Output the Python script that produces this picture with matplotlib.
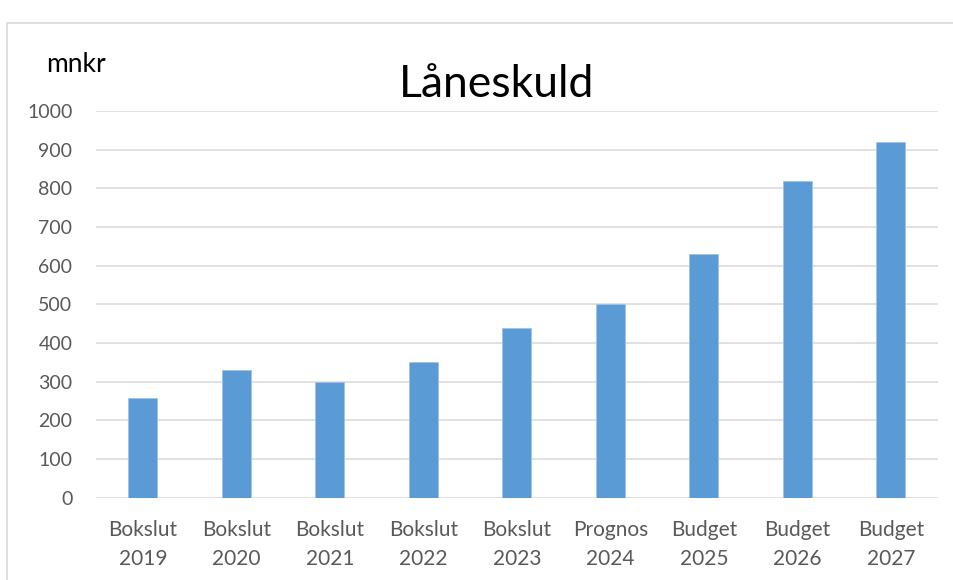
import matplotlib.pyplot as plt
from matplotlib.patches import Rectangle

# Data
categories = ['Bokslut\n2019', 'Bokslut\n2020', 'Bokslut\n2021', 'Bokslut\n2022',
              'Bokslut\n2023', 'Prognos\n2024', 'Budget\n2025', 'Budget\n2026',
              'Budget\n2027']
values = [257, 330, 300, 350, 440, 500, 630, 819, 920]
yticks = [0, 100, 200, 300, 400, 500, 600, 700, 800, 900, 1000]

plt.rcParams['font.family'] = ['Lato', 'DejaVu Sans']

W, H = 954, 580
fig = plt.figure(figsize=(W / 100, H / 100), dpi=100)

# light outer frame (chart area border, cut off on right and bottom)
fig.patches.append(Rectangle((7 / W, -0.1), 1.2, (H - 23) / H + 0.1,
                             transform=fig.transFigure, fill=False,
                             edgecolor='#d9d9d9', linewidth=1.2))

ax = fig.add_axes([96 / W, (H - 497.7) / H, (937.7 - 96) / W, (497.7 - 111) / H])

x = range(len(categories))
ax.bar(x, values, width=0.31, color='#5b9bd5', edgecolor='#9dc3e6',
       linewidth=0.6, zorder=3)

ax.set_xlim(-0.5, len(categories) - 0.5)
ax.set_ylim(0, 1000)
ax.set_yticks(yticks)
ax.set_xticks(list(x))
ax.set_xticklabels(categories, linespacing=1.55)
ax.tick_params(axis='both', length=0, colors='#595959')
ax.tick_params(axis='x', pad=16, labelsize=15)
ax.tick_params(axis='y', pad=17, labelsize=14)
ax.yaxis.grid(True, color='#d9d9d9', linewidth=1.1, zorder=0)
for s in ax.spines.values():
    s.set_visible(False)

fig.text(497 / W, 1 - 97 / H, 'Låneskuld', ha='center', va='baseline',
         fontsize=32, color='#000000')
fig.text(46 / W, 1 - 72.3 / H, 'mnkr', ha='left', va='baseline',
         fontsize=19, color='#000000')

fig.savefig('out.png', dpi=100)
